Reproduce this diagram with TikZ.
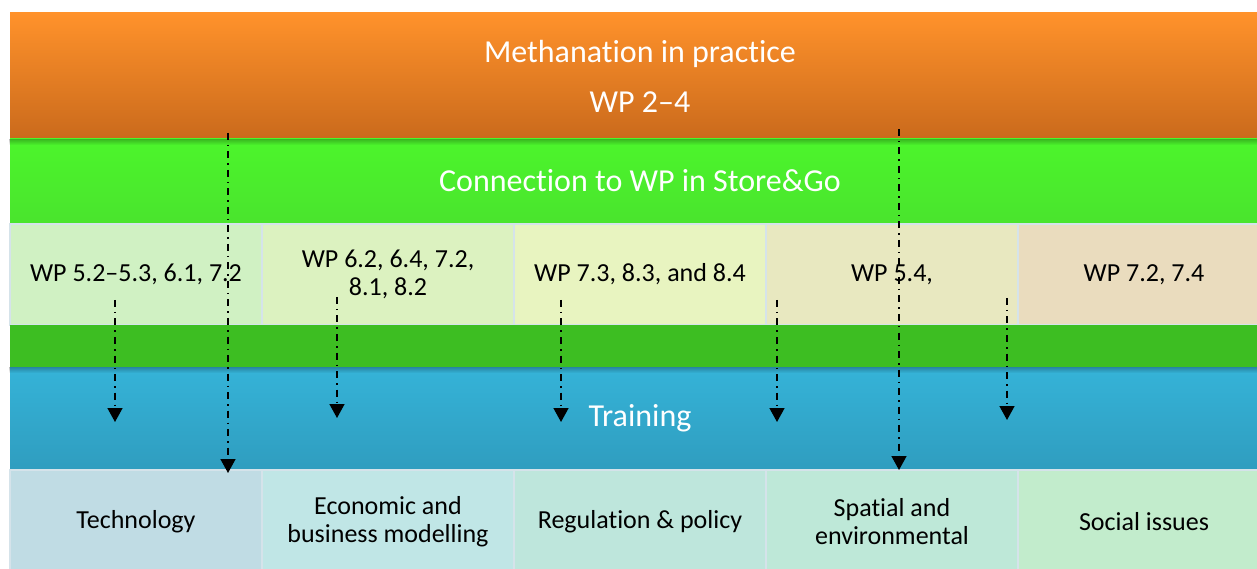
\documentclass[tikz,border=0pt]{standalone}
\usepackage{fontspec}
\setmainfont{Carlito}[RawFeature={-liga;-calt;-dlig}]
\usetikzlibrary{arrows.meta,positioning,fadings}
\definecolor{orangetop}{HTML}{FF922B}
\definecolor{orangebot}{HTML}{CA6A1C}
\definecolor{conngreen}{HTML}{4CF52C}
\definecolor{conngreenb}{HTML}{4AE42D}
\definecolor{bandgreen}{HTML}{3DBE22}
\definecolor{trainblue}{HTML}{35B3D8}
\definecolor{trainblueb}{HTML}{2F9DBF}
\definecolor{sepline}{HTML}{D5E3EA}
\definecolor{wpA}{HTML}{D0F1C3}
\definecolor{wpB}{HTML}{DCF2C0}
\definecolor{wpC}{HTML}{E8F4C0}
\definecolor{wpD}{HTML}{E8E8C0}
\definecolor{wpE}{HTML}{EADCBE}
\definecolor{topA}{HTML}{C0DCE4}
\definecolor{topB}{HTML}{C0E6E6}
\definecolor{topC}{HTML}{BEE6DC}
\definecolor{topD}{HTML}{BEE8D8}
\definecolor{topE}{HTML}{C2ECCC}

\begin{document}
\begin{tikzpicture}[
    x=1pt, y=1pt,
    bar/.style={minimum width=1260pt, inner sep=0pt, outer sep=0pt, text=white,
                align=center, font=\fontsize{32}{38}\selectfont},
    wpbox/.style={draw=sepline, line width=1.5pt, minimum width=252pt, minimum height=101pt,
                  inner sep=0pt, outer sep=0pt, align=center, font=\fontsize{26}{28}\selectfont},
    topic/.style={wpbox, minimum height=104pt},
    shade/.style={black, opacity=0.25, path fading=south},
    arr/.style={-{Triangle[width=15pt,length=14pt]}, line width=1.5pt,
                dash pattern=on 7pt off 5pt on 1.5pt off 5pt}
]
\useasboundingbox (0,0) rectangle (1257,568);
\clip (0,0) rectangle (1257,568);

% --- Top bars ---
\node[bar, minimum height=126pt, top color=orangetop, bottom color=orangebot, anchor=north west]
    (method) at (10,555) {Methanation in practice\\[12pt]WP 2--4};
\node[bar, minimum height=85pt, top color=conngreen, bottom color=conngreenb, below=0pt of method]
    (conn) {\raisebox{3pt}{Connection to WP in Store\&Go}};
\fill[shade] (method.south west) rectangle ++(1260,-6);

% --- Work packages ---
\node[wpbox, fill=wpA, anchor=north west] (wpa) at (conn.south west) {WP 5.2--5.3, 6.1, 7.2};
\node[wpbox, fill=wpB, right=0pt of wpa] (wpb) {WP 6.2, 6.4, 7.2,\\8.1, 8.2};
\node[wpbox, fill=wpC, right=0pt of wpb] (wpc) {WP 7.3, 8.3, and 8.4};
\node[wpbox, fill=wpD, right=0pt of wpc] (wpd) {WP 5.4,};
\node[wpbox, fill=wpE, right=0pt of wpd] (wpe) {WP 7.2, 7.4};

% --- Training ---
\node[bar, minimum height=42pt, fill=bandgreen, anchor=north west] (band) at (wpa.south west) {};
\node[bar, minimum height=103pt, top color=trainblue, bottom color=trainblueb, below=0pt of band]
    (train) {Training};
\fill[shade] (band.south west) rectangle ++(1260,-6);

% --- Topics ---
\node[topic, fill=topA, anchor=north west] (tech) at (train.south west) {Technology};
\node[topic, fill=topB, right=0pt of tech] (econ) {Economic and\\business modelling};
\node[topic, fill=topC, right=0pt of econ] (regul) {Regulation \& policy};
\node[topic, fill=topD, right=0pt of regul] (spatial) {Spatial and\\environmental};
\node[topic, fill=topE, right=0pt of spatial] (social) {Social issues};

% --- Arrows ---
\foreach \i/\x/\ys/\ye in {1/115/268/146, 2/228/435/95, 3/337/271/150, 4/561/268/146,
                           5/777/268/146, 6/899/439/98, 7/1007/270/148} {
  \coordinate (s\i) at (\x,\ys);
  \coordinate (e\i) at (\x,\ye);
  \draw[arr] (s\i) -- (e\i);
}

\end{tikzpicture}
\end{document}
